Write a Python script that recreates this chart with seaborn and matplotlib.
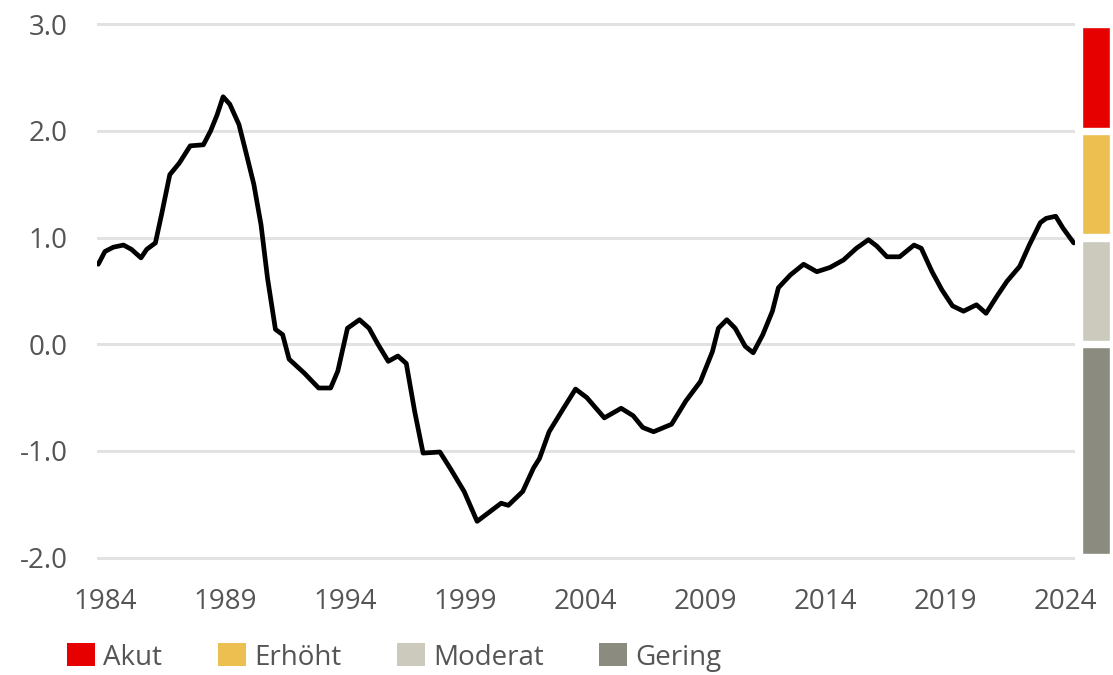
import matplotlib
matplotlib.use("Agg")
import matplotlib.pyplot as plt
import seaborn as sns
import pandas as pd
from matplotlib.patches import Patch

# index values (fractional years)
years = [1983.72, 1984.0, 1984.35, 1984.77, 1985.1, 1985.5, 1985.74, 1986.1, 1986.36, 1986.7,
         1987.1, 1987.55, 1988.1, 1988.4, 1988.67, 1988.92, 1989.2, 1989.58, 1989.86, 1990.2,
         1990.5, 1990.77, 1991.1, 1991.4, 1991.67, 1992.3, 1992.9, 1993.4, 1993.7, 1994.1,
         1994.6, 1995.0, 1995.37, 1995.8, 1996.2, 1996.55, 1996.9, 1997.25, 1997.95, 1998.4,
         1998.96, 1999.5, 2000.5, 2000.8, 2001.4, 2001.85, 2002.1, 2002.5, 2003.1, 2003.6,
         2004.07, 2004.8, 2005.5, 2006.0, 2006.4, 2006.85, 2007.6, 2008.2, 2008.8, 2009.3,
         2009.55, 2009.9, 2010.25, 2010.67, 2011.0, 2011.4, 2011.8, 2012.05, 2012.55, 2013.1,
         2013.65, 2014.2, 2014.76, 2015.3, 2015.8, 2016.15, 2016.57, 2017.1, 2017.7, 2018.0,
         2018.45, 2018.86, 2019.3, 2019.76, 2020.3, 2020.7, 2021.15, 2021.57, 2022.1, 2022.5,
         2022.96, 2023.2, 2023.6, 2023.9, 2024.35]
index = [0.75, 0.87, 0.91, 0.93, 0.89, 0.81, 0.89, 0.95, 1.22, 1.59,
         1.70, 1.86, 1.87, 2.00, 2.15, 2.32, 2.25, 2.06, 1.81, 1.50,
         1.12, 0.62, 0.14, 0.09, -0.14, -0.27, -0.41, -0.41, -0.25, 0.15,
         0.23, 0.15, 0.00, -0.16, -0.11, -0.18, -0.63, -1.02, -1.01, -1.17,
         -1.38, -1.66, -1.49, -1.51, -1.38, -1.16, -1.07, -0.82, -0.60, -0.42,
         -0.50, -0.69, -0.60, -0.67, -0.78, -0.82, -0.75, -0.53, -0.35, -0.07,
         0.15, 0.23, 0.15, -0.02, -0.08, 0.09, 0.31, 0.53, 0.65, 0.75,
         0.68, 0.72, 0.79, 0.90, 0.98, 0.92, 0.82, 0.82, 0.93, 0.90,
         0.68, 0.51, 0.36, 0.31, 0.37, 0.29, 0.45, 0.59, 0.73, 0.93,
         1.14, 1.18, 1.20, 1.09, 0.95]

x_ticks = [1984, 1989, 1994, 1999, 2004, 2009, 2014, 2019, 2024]
y_ticks = [-2.0, -1.0, 0.0, 1.0, 2.0, 3.0]

# risk zones
zone_names = ["Akut", "Erhöht", "Moderat", "Gering"]
zone_low = [2.0, 1.0, 0.0, -2.0]
zone_high = [3.0, 2.0, 1.0, 0.0]
zone_colors = ["#E60000", "#EDBE50", "#CCCABD", "#8C8B80"]

sns.set_style("white")
plt.rcParams["font.family"] = ["Open Sans", "DejaVu Sans"]
text_color = "#555555"

fig = plt.figure(figsize=(11.13, 6.75), dpi=100)
ax = fig.add_axes([0.0872, 0.166, 0.879, 0.806])

df = pd.DataFrame({"Jahr": years, "Index": index})
sns.lineplot(data=df, x="Jahr", y="Index", ax=ax, color="black", linewidth=3.4)

ax.set_xlim(1983.67, 2024.42)
ax.set_ylim(-2.05, 3.05)
ax.set_xticks(x_ticks)
ax.set_xticklabels([str(t) for t in x_ticks])
ax.set_yticks(y_ticks)
ax.set_yticklabels([f"{t:.1f}" for t in y_ticks])
ax.grid(axis="y", color="#E2E2E2", linewidth=2.2)
ax.set_axisbelow(True)
ax.set_xlabel("")
ax.set_ylabel("")
for s in ax.spines.values():
    s.set_visible(False)
ax.tick_params(axis="both", length=0, labelsize=20, colors=text_color)
ax.tick_params(axis="y", pad=21)
ax.tick_params(axis="x", pad=18)

# colored scale on the right
bar_ax = fig.add_axes([0.9722, 0.166, 0.0252, 0.806])
gap = 0.03
bar_ax.bar([0] * len(zone_names),
           [h - l - 2 * gap for l, h in zip(zone_low, zone_high)],
           bottom=[l + gap for l in zone_low],
           width=1.0, color=zone_colors)
bar_ax.set_xlim(-0.5, 0.5)
bar_ax.set_ylim(-2.05, 3.05)
bar_ax.axis("off")

handles = [Patch(facecolor=c, edgecolor="none") for c in zone_colors]
fig.legend(handles, zone_names, loc="center left", bbox_to_anchor=(0.038, 0.026),
           ncol=4, frameon=False, fontsize=20, labelcolor=text_color,
           handlelength=1.0, handleheight=0.9, handletextpad=0.3, columnspacing=2.0)

fig.savefig("out.png", dpi=100)
